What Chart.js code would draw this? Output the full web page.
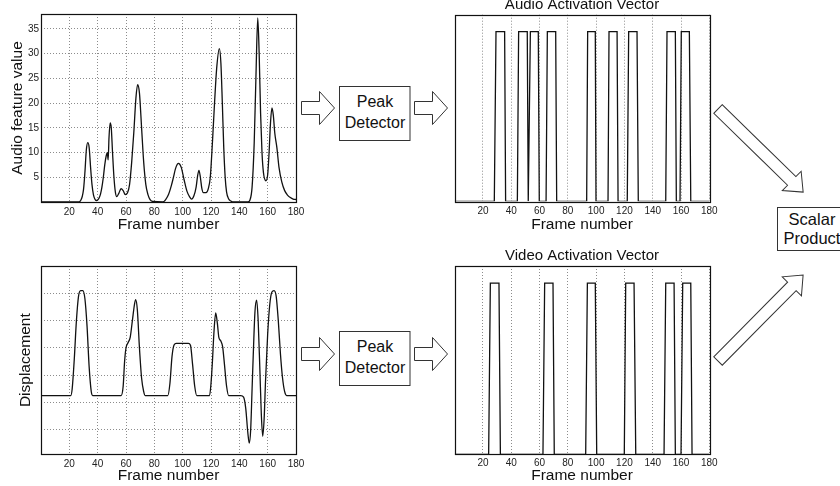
<!DOCTYPE html>
<html>
<head>
<meta charset="utf-8">
<script src="https://cdn.jsdelivr.net/npm/chart.js@4.4.0/dist/chart.umd.min.js"></script>
<style>
  html, body { margin: 0; padding: 0; background: #fff; }
  body { width: 840px; height: 486px; position: relative; overflow: hidden; }
  canvas { position: absolute; }
  svg { position: absolute; left: 0; top: 0; }
</style>
</head>
<body>
<canvas id="audioChart" width="310" height="240" style="left:0px;top:0px"></canvas>
<canvas id="audioActChart" width="290" height="240" style="left:440px;top:-4px"></canvas>
<canvas id="dispChart" width="310" height="240" style="left:0px;top:250px"></canvas>
<canvas id="videoActChart" width="290" height="243" style="left:440px;top:247px"></canvas>
<svg id="diagram" width="840" height="486"></svg>

<script>
// ticks shared by every plot
const frameTicks = [20, 40, 60, 80, 100, 120, 140, 160, 180]
const audioTicks = [5, 10, 15, 20, 25, 30, 35]
const dispGrid = [-2, -1, 0, 1, 2, 3]

// audio feature curve
const audioFrames = [0, 26, 28, 30, 31, 32, 33, 34, 35, 36, 37, 38, 39, 40, 41, 42, 43, 44, 45, 46, 46.8, 47.4, 48, 48.8, 49.6, 50.5, 51.5, 52.5, 53.5, 55, 56.5, 58, 59.5, 61, 62.5, 64, 65.5, 67, 68.2, 69.5, 71, 72.5, 74, 75.5, 77, 79, 86, 88, 90, 92, 93.5, 95, 97, 99, 101, 103, 105, 106.3, 108, 109.5, 110.5, 111.5, 112.5, 113.5, 114.6, 116.5, 118, 119.5, 121, 122.5, 124, 125.9, 127, 128, 129, 130, 131, 132.5, 134, 136, 146, 147.5, 149, 150.5, 151.7, 153, 154, 155, 156, 157, 158.8, 160, 161, 162, 163, 164, 165, 166.5, 168, 170, 172, 174, 176, 178, 180]
const audioValues = [0, 0, 0.3, 2.5, 6, 10.5, 12, 11, 7, 3.5, 1.5, 0.6, 0.3, 0.4, 0.8, 1.6, 3, 5, 7.5, 9.3, 10, 8.5, 13, 16, 15, 10, 5, 2, 1.1, 1.8, 2.7, 2.3, 1.5, 1.8, 3.5, 8, 14, 21, 23.7, 22, 15, 8, 3.5, 1.5, 0.5, 0.1, 0, 0.5, 1.5, 3.3, 5, 6.8, 7.8, 7, 4.5, 2.2, 1, 0.6, 1.3, 3, 5.2, 6.4, 5, 2.8, 1.9, 1.9, 2.6, 5, 12, 20, 27, 31, 28, 20, 11, 5, 2, 0.6, 0.2, 0, 0, 0.4, 3, 12, 25, 37.2, 30, 18, 10, 6, 4.3, 5.5, 10, 16, 19, 17.5, 14, 11, 7, 4, 2.3, 1.4, 0.9, 0.6, 0.5]

// displacement curve (arbitrary units)
const dispFrames = [0, 21, 22, 23.5, 25, 26.5, 28, 29.5, 31, 32.5, 34, 35.5, 36.5, 56.5, 58, 59, 60, 61.5, 63, 64.5, 66, 66.8, 68, 69.5, 71, 72.5, 73.5, 89.5, 91, 92.5, 94, 95.5, 104, 105.5, 107, 108.5, 110, 119, 120, 121, 122, 123.3, 124.5, 125.5, 127, 128.2, 129.5, 131, 132.5, 141, 143, 144.5, 146, 147, 148, 149, 150, 151, 152.2, 153.3, 154.5, 155.5, 156.5, 157.5, 158.5, 160, 161.5, 163, 164.5, 166, 167.5, 169, 170.5, 172, 173.4, 180]
const dispValues = [-0.74, -0.74, -0.5, 0.6, 2, 2.9, 3.1, 3.1, 2.8, 1.8, 0.3, -0.6, -0.74, -0.74, -0.4, 0.5, 1.0, 1.2, 1.4, 2.0, 2.6, 2.77, 2.4, 1.0, -0.1, -0.6, -0.74, -0.74, -0.3, 0.7, 1.12, 1.17, 1.17, 1.1, 0.4, -0.4, -0.74, -0.74, -0.3, 0.5, 1.5, 2.28, 1.9, 1.4, 1.25, 1.05, 0.4, -0.4, -0.74, -0.74, -0.8, -1.2, -2.1, -2.48, -2.0, -0.5, 1.0, 2.3, 2.75, 2.0, 0.2, -1.4, -2.23, -1.6, -0.2, 1.5, 2.6, 3.05, 3.1, 2.9, 2.0, 0.8, -0.1, -0.6, -0.74, -0.74]

// activation vectors
const audioActFrames = [0, 28, 29.2, 35.3, 36, 44.3, 45.2, 51.3, 52, 52.3, 53.5, 59.1, 59.8, 64.6, 65.5, 71.4, 72.1, 93.3, 94, 99.4, 99.9, 108.4, 109.1, 114.8, 115.5, 122, 123, 128.9, 129.8, 149.2, 150.1, 156, 156.7, 159.3, 160.2, 165.9, 166.9, 180]
const audioActValues = [0, 0, 1, 1, 0, 0, 1, 1, 0, 0, 1, 1, 0, 0, 1, 1, 0, 0, 1, 1, 0, 0, 1, 1, 0, 0, 1, 1, 0, 0, 1, 1, 0, 0, 1, 1, 0, 0]
const videoActFrames = [0, 24, 25.2, 31.3, 32.3, 62.4, 63.6, 69.5, 70.4, 92.6, 93.8, 99.4, 100.4, 119.9, 120.9, 126.8, 128, 148, 149.2, 155.1, 156, 160, 161.2, 166.9, 167.8, 180]
const videoActValues = [0, 0, 1, 1, 0, 0, 1, 1, 0, 0, 1, 1, 0, 0, 1, 1, 0, 0, 1, 1, 0, 0, 1, 1, 0, 0]

Chart.defaults.font.family = "'Liberation Sans', Arial, sans-serif"
Chart.defaults.color = '#222'

const frameBox = {
    id: 'frameBox',
    afterDraw(chart) {
        const a = chart.chartArea
        const ctx = chart.ctx
        ctx.save()
        ctx.strokeStyle = '#111'
        ctx.lineWidth = 1.2
        ctx.strokeRect(Math.round(a.left) + 0.5, Math.round(a.top) + 0.5,
            Math.round(a.right - a.left), Math.round(a.bottom - a.top))
        ctx.restore()
    }
}

function puntos(xs, ys) {
    return xs.map((x, i) => ({x: x, y: ys[i]}))
}

function ejeFrames(altura, padTicks, padTitulo) {
    return {
        type: 'linear', min: 0, max: 180,
        afterBuildTicks: (ax) => { ax.ticks = frameTicks.map(v => ({value: v})) },
        afterFit: (ax) => { ax.height = altura },
        grid: {color: '#8c8c8c', lineWidth: 1, drawTicks: false},
        border: {display: false, dash: [1, 2]},
        ticks: {font: {size: 10}, padding: padTicks, maxRotation: 0, color: '#222'},
        title: {display: true, text: 'Frame number', font: {size: 15.5}, color: '#111', padding: {top: 0, bottom: padTitulo}}
    }
}

function lineaDataset(data, tension) {
    return {
        data: data,
        borderColor: '#111',
        borderWidth: 1.3,
        pointRadius: 0,
        tension: tension,
        cubicInterpolationMode: tension ? 'monotone' : 'default',
        fill: false
    }
}

/*
    grafico superior izquierdo: valor de la caracteristica de audio
*/
new Chart(document.getElementById('audioChart'), {
    type: 'line',
    data: {datasets: [lineaDataset(puntos(audioFrames, audioValues), 0.4)]},
    options: {
        responsive: false, animation: false, events: [],
        layout: {padding: {top: 14, right: 14, left: 0, bottom: 0}},
        plugins: {legend: {display: false}, tooltip: {enabled: false}},
        scales: {
            x: ejeFrames(38, 4, 6),
            y: {
                type: 'linear', min: 0, max: 38,
                afterBuildTicks: (ax) => { ax.ticks = audioTicks.map(v => ({value: v})) },
                afterFit: (ax) => { ax.width = 41 },
                grid: {color: '#8c8c8c', lineWidth: 1, drawTicks: false},
                border: {display: false, dash: [1, 2]},
                ticks: {font: {size: 10}, padding: 2, color: '#222'},
                title: {display: true, text: 'Audio feature value', font: {size: 15.5}, color: '#111', padding: {top: 8, bottom: 0}}
            }
        }
    },
    plugins: [frameBox]
})

/*
    grafico inferior izquierdo: desplazamiento
*/
new Chart(document.getElementById('dispChart'), {
    type: 'line',
    data: {datasets: [lineaDataset(puntos(dispFrames, dispValues), 0.4)]},
    options: {
        responsive: false, animation: false, events: [],
        layout: {padding: {top: 16, right: 14, left: 0, bottom: 0}},
        plugins: {legend: {display: false}, tooltip: {enabled: false}},
        scales: {
            x: ejeFrames(35.7, 3.5, 5.4),
            y: {
                type: 'linear', min: -2.89, max: 4,
                afterBuildTicks: (ax) => { ax.ticks = dispGrid.map(v => ({value: v})) },
                afterFit: (ax) => { ax.width = 41 },
                grid: {color: '#8c8c8c', lineWidth: 1, drawTicks: false},
                border: {display: false, dash: [1, 2]},
                ticks: {display: false},
                title: {display: true, text: 'Displacement', font: {size: 15.5}, color: '#111', padding: {top: 16, bottom: 0}}
            }
        }
    },
    plugins: [frameBox]
})

function graficoActivacion(id, titulo, xs, ys, padTituloAbajo, altoEje, padTicks, padTitulo) {
    new Chart(document.getElementById(id), {
        type: 'line',
        data: {datasets: [lineaDataset(puntos(xs, ys), 0)]},
        options: {
            responsive: false, animation: false, events: [],
            layout: {padding: {top: 0, right: 20.7, left: 14.7, bottom: 0}},
            plugins: {
                legend: {display: false}, tooltip: {enabled: false},
                title: {display: true, text: titulo, font: {size: 15, weight: 'normal'}, color: '#111', padding: {top: 0, bottom: padTituloAbajo}}
            },
            scales: {
                x: ejeFrames(altoEje, padTicks, padTitulo),
                y: {type: 'linear', min: 0, max: 1.1, display: false}
            }
        },
        plugins: [frameBox]
    })
}

graficoActivacion('audioActChart', 'Audio Activation Vector', audioActFrames, audioActValues, 0.7, 34.7, 4, 2.1)
graficoActivacion('videoActChart', 'Video Activation Vector', videoActFrames, videoActValues, 1, 35.7, 2.5, 5.1)

// flechas y cajas del diagrama
const svg = document.getElementById('diagram')
const NS = 'http://www.w3.org/2000/svg'

function flecha(x, y, largo, angulo, s, h, hl) {
    const p = document.createElementNS(NS, 'polygon')
    const pts = [[0, -s], [largo - hl, -s], [largo - hl, -h], [largo, 0], [largo - hl, h], [largo - hl, s], [0, s]]
    p.setAttribute('points', pts.map(q => q.join(',')).join(' '))
    p.setAttribute('transform', 'translate(' + x + ',' + y + ') rotate(' + angulo + ')')
    p.setAttribute('fill', '#fff')
    p.setAttribute('stroke', '#333')
    p.setAttribute('stroke-width', '1')
    svg.appendChild(p)
}

function caja(x, y, w, h, lineas, cx, ys, size) {
    const r = document.createElementNS(NS, 'rect')
    r.setAttribute('x', x); r.setAttribute('y', y)
    r.setAttribute('width', w); r.setAttribute('height', h)
    r.setAttribute('fill', '#fff'); r.setAttribute('stroke', '#333'); r.setAttribute('stroke-width', '1')
    svg.appendChild(r)
    lineas.forEach((t, i) => {
        const tx = document.createElementNS(NS, 'text')
        tx.setAttribute('x', cx); tx.setAttribute('y', ys[i])
        tx.setAttribute('text-anchor', 'middle')
        tx.setAttribute('dominant-baseline', 'middle')
        tx.setAttribute('font-family', "'Liberation Sans', Arial, sans-serif")
        tx.setAttribute('font-size', size)
        tx.setAttribute('fill', '#111')
        tx.textContent = t
        svg.appendChild(tx)
    })
}

flecha(301.5, 108, 33, 0, 6.5, 16.5, 15)
flecha(414.5, 108, 33, 0, 6.5, 16.5, 15)
caja(339.5, 86.5, 70.5, 54, ['Peak', 'Detector'], 375, [103, 124], 16)

flecha(301.5, 354, 33, 0, 6.5, 16.5, 15)
flecha(414.5, 354, 33, 0, 6.5, 16.5, 15)
caja(339.5, 331.5, 70.5, 54, ['Peak', 'Detector'], 375, [348, 369], 16)

flecha(718, 109, 119, 44.3, 6, 13.5, 16)
flecha(718, 361, 121, -45.3, 6, 13.5, 16)
caja(777.5, 207.5, 75, 43, ['Scalar', 'Product'], 812, [221, 240], 16.5)
</script>
</body>
</html>
